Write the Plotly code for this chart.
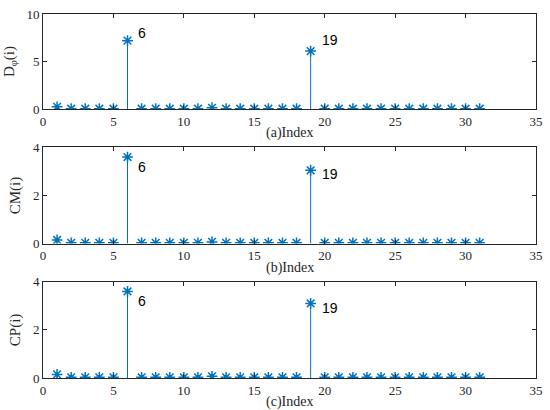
import plotly.graph_objects as go

# data
index = list(range(1, 32))
d_phi = [0.25, 0.05, 0.05, 0.05, 0.05, 7.2, 0.05, 0.05, 0.05, 0.05, 0.05, 0.15, 0.05, 0.05, 0.05, 0.05,
         0.05, 0.05, 6.1, 0.05, 0.05, 0.05, 0.05, 0.05, 0.05, 0.05, 0.05, 0.05, 0.05, 0.05, 0.05]
cm = [0.15, 0.03, 0.03, 0.03, 0.03, 3.6, 0.03, 0.03, 0.03, 0.03, 0.03, 0.07, 0.03, 0.03, 0.03, 0.03,
      0.03, 0.03, 3.05, 0.03, 0.03, 0.03, 0.03, 0.03, 0.03, 0.03, 0.03, 0.03, 0.03, 0.03, 0.03]
cp = [0.15, 0.03, 0.03, 0.03, 0.03, 3.6, 0.03, 0.03, 0.03, 0.03, 0.03, 0.07, 0.03, 0.03, 0.03, 0.03,
      0.03, 0.03, 3.1, 0.03, 0.03, 0.03, 0.03, 0.03, 0.03, 0.03, 0.03, 0.03, 0.03, 0.03, 0.03]
panels = [d_phi, cm, cp]
ylabels = ["D<sub>φ</sub>(i)", "CM(i)", "CP(i)"]
xlabels = ["(a)Index", "(b)Index", "(c)Index"]
yranges = [[0, 10], [0, 4], [0, 4]]
ydticks = [5, 2, 2]
# peak labels: (x, y) per panel
label_pos = [[(7.0, 8.0), (20.4, 7.3)], [(7.0, 3.2), (20.4, 2.9)], [(7.0, 3.2), (20.4, 2.9)]]
label_txt = ["6", "19"]

blue = "#0072BD"
axcol = "#262626"
domains = [[0.7385, 1.0], [0.3693, 0.6334], [0.0, 0.2642]]

fig = go.Figure()
for k in range(3):
    xa = "x" if k == 0 else "x%d" % (k + 1)
    ya = "y" if k == 0 else "y%d" % (k + 1)
    fig.add_trace(go.Scatter(
        x=index, y=panels[k], mode="markers", xaxis=xa, yaxis=ya,
        marker=dict(symbol="asterisk-open", size=9, color=blue, line=dict(color=blue, width=1.5)),
        error_y=dict(type="data", symmetric=False, array=[0] * len(index), arrayminus=panels[k],
                     width=0, color=blue, thickness=1),
        showlegend=False))
    for (lx, ly), t in zip(label_pos[k], label_txt):
        fig.add_annotation(x=lx, y=ly, xref=xa, yref=ya, text=t, showarrow=False,
                           font=dict(family="Liberation Sans", size=14, color="black"))
    # x title sits close under the tick labels, like the original
    fig.add_annotation(x=17.5, y=0, xref=xa, yref=ya + " domain", yshift=-24, text=xlabels[k],
                       showarrow=False, yanchor="middle",
                       font=dict(family="Liberation Serif", size=14, color=axcol))
    axis_common = dict(showline=True, linecolor=axcol, linewidth=1, mirror="ticks", ticks="inside",
                       ticklen=4, tickcolor=axcol, showgrid=False, zeroline=False,
                       tickfont=dict(family="Liberation Serif", size=13, color=axcol))
    fig.layout["xaxis" if k == 0 else "xaxis%d" % (k + 1)] = dict(
        axis_common, range=[0, 35], dtick=5, tick0=0, anchor=ya)
    fig.layout["yaxis" if k == 0 else "yaxis%d" % (k + 1)] = dict(
        axis_common, range=yranges[k], dtick=ydticks[k], tick0=0, anchor=xa, domain=domains[k],
        title=dict(text=ylabels[k], standoff=8, font=dict(family="Liberation Serif", size=15, color=axcol)))

fig.update_layout(width=550, height=410, plot_bgcolor="white", paper_bgcolor="white",
                  margin=dict(l=43, r=10, t=7, b=32))
fig.write_html("out.html", config={"displayModeBar": False},
               post_script="document.body.style.margin='0px';")
